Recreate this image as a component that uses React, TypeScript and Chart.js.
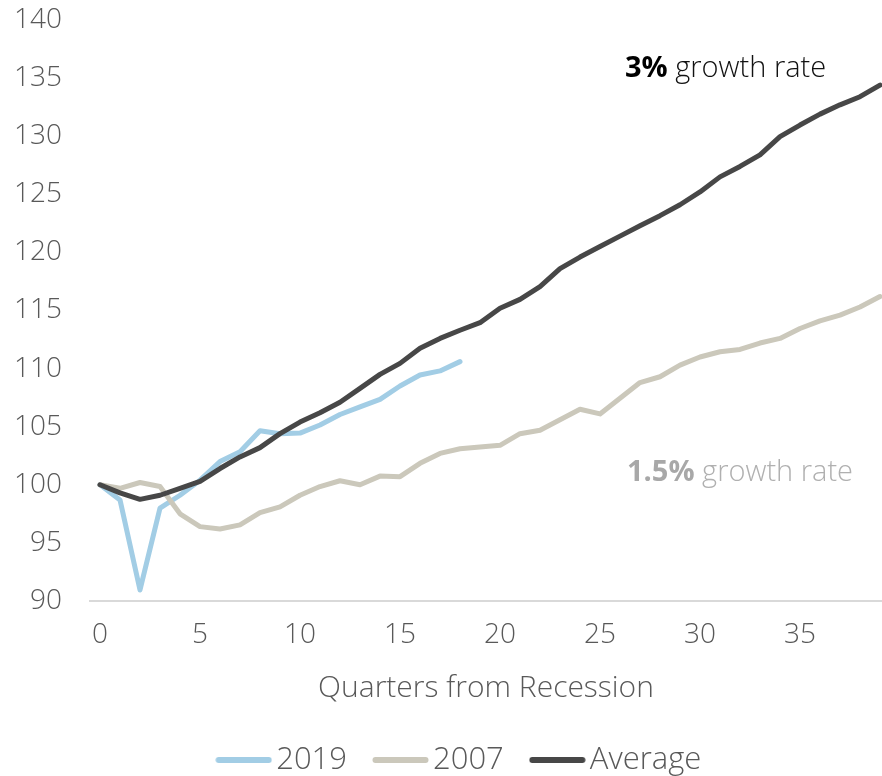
import React, { useEffect, useRef } from "react";
import { Chart, registerables } from "chart.js";

Chart.register(...registerables);

const quarters = [0, 1, 2, 3, 4, 5, 6, 7, 8, 9, 10, 11, 12, 13, 14, 15, 16, 17, 18, 19, 20, 21, 22, 23, 24, 25, 26, 27, 28, 29, 30, 31, 32, 33, 34, 35, 36, 37, 38, 39];

const series2019 = [100, 98.7, 90.95, 98.0, 99.1, 100.4, 102.0, 102.85, 104.65, 104.4, 104.45, 105.15, 106.05, 106.7, 107.35, 108.5, 109.45, 109.8, 110.6];

const series2007 = [100, 99.7, 100.2, 99.85, 97.5, 96.4, 96.2, 96.55, 97.6, 98.1, 99.1, 99.85, 100.35, 100.0, 100.75, 100.7, 101.85, 102.7, 103.1, 103.25, 103.4, 104.4, 104.7, 105.6, 106.5, 106.1, 107.45, 108.8, 109.3, 110.3, 111.0, 111.45, 111.65, 112.2, 112.6, 113.45, 114.1, 114.6, 115.3, 116.2];

const seriesAverage = [100, 99.3, 98.75, 99.1, 99.7, 100.3, 101.4, 102.4, 103.2, 104.4, 105.4, 106.2, 107.1, 108.3, 109.5, 110.45, 111.75, 112.6, 113.3, 113.95, 115.2, 115.96, 117.05, 118.6, 119.6, 120.5, 121.4, 122.3, 123.16, 124.1, 125.2, 126.5, 127.4, 128.4, 129.96, 130.96, 131.9, 132.7, 133.4, 134.4];

const xTickValues = [0, 5, 10, 15, 20, 25, 30, 35];
const seriesNames = ["2019", "2007", "Average"];
const seriesColors = ["#a2cde5", "#cbc8bb", "#474747"];
const xTitle = "Quarters from Recession";

const annotations = [
  { bold: "3%", rest: " growth rate", color: "#111111", boldColor: "#000000", x: 625, y: 77, size: 29 },
  { bold: "1.5%", rest: " growth rate", color: "#b0b0b0", boldColor: "#a8a8a8", x: 627, y: 481, size: 29 },
];

const FONT = "'Open Sans', 'Noto Sans', sans-serif";
const TEXT_WEIGHT = 300;
const LEGEND_SHIFT = 23;

const toPoints = (vals: number[]) => vals.map((v, i) => ({ x: quarters[i], y: v }));

// legend swatch: rounded thick line drawn into a small canvas
function makeSwatch(color: string) {
  const c = document.createElement("canvas");
  c.width = 57;
  c.height = 8;
  const g = c.getContext("2d")!;
  g.strokeStyle = color;
  g.lineWidth = 6;
  g.lineCap = "round";
  g.beginPath();
  g.moveTo(3.5, 4);
  g.lineTo(53.5, 4);
  g.stroke();
  return c;
}

const annotationPlugin = {
  id: "growthText",
  afterLayout(chart: any) {
    if (chart.legend) {
      chart.legend.left += LEGEND_SHIFT;
      chart.legend.right += LEGEND_SHIFT;
    }
  },
  afterDatasetsDraw(chart: any) {
    const ctx = chart.ctx;
    ctx.save();
    ctx.textBaseline = "alphabetic";
    ctx.textAlign = "left";
    for (const a of annotations) {
      ctx.font = `bold ${a.size}px ${FONT}`;
      ctx.fillStyle = a.boldColor;
      ctx.fillText(a.bold, a.x, a.y);
      const w = ctx.measureText(a.bold).width;
      ctx.font = `${TEXT_WEIGHT} ${a.size}px ${FONT}`;
      ctx.fillStyle = a.color;
      ctx.fillText(a.rest, a.x + w, a.y);
    }
    ctx.restore();
  },
};

export default function App() {
  const ref = useRef<HTMLCanvasElement | null>(null);
  useEffect(() => {
    if (!ref.current) return;
    const data = [series2019, series2007, seriesAverage];
    const orders = [2, 1, 0];
    const swatches = seriesColors.map(makeSwatch);
    const chart = new Chart(ref.current, {
      type: "line",
      data: {
        datasets: data.map((d, i) => ({
          label: seriesNames[i],
          data: toPoints(d),
          borderColor: seriesColors[i],
          backgroundColor: seriesColors[i],
          borderWidth: 5,
          borderCapStyle: "round",
          borderJoinStyle: "round",
          pointRadius: 0,
          pointStyle: swatches[i],
          tension: 0,
          order: orders[i],
        })),
      },
      options: {
        animation: false,
        responsive: false,
        maintainAspectRatio: false,
        layout: { padding: { top: 20, bottom: -9.5, left: 0, right: 0 } },
        plugins: {
          tooltip: { enabled: false },
          legend: {
            position: "bottom",
            labels: {
              usePointStyle: true,
              pointStyleWidth: 34,
              boxWidth: 34,
              padding: 36.5,
              color: "#595959",
              font: { family: FONT, size: 31, weight: TEXT_WEIGHT },
              sort: (a: any, b: any) => a.datasetIndex - b.datasetIndex,
            },
          },
        },
        scales: {
          x: {
            type: "linear",
            min: -0.5,
            max: 39.1,
            afterBuildTicks: (axis: any) => {
              axis.ticks = xTickValues.map((v) => ({ value: v }));
            },
            afterFit: (axis: any) => {
              axis.height = 107;
              axis.paddingLeft = 0;
              axis.paddingRight = 0;
            },
            grid: { display: false, drawTicks: false },
            border: { display: true, color: "#d9d9d9", width: 2 },
            ticks: {
              color: "#595959",
              font: { family: FONT, size: 28, weight: TEXT_WEIGHT },
              padding: 17,
              maxRotation: 0,
              autoSkip: false,
            },
            title: {
              display: true,
              text: xTitle,
              color: "#595959",
              font: { family: FONT, size: 30, weight: TEXT_WEIGHT, lineHeight: 1 },
              padding: { top: 0, bottom: 5 },
            },
          },
          y: {
            min: 90,
            max: 140,
            afterFit: (axis: any) => {
              axis.width = 90;
              axis.paddingTop = 0;
              axis.paddingBottom = 0;
            },
            grid: { display: false, drawTicks: false },
            border: { display: false },
            ticks: {
              stepSize: 5,
              color: "#595959",
              font: { family: FONT, size: 28, weight: TEXT_WEIGHT },
              padding: 28,
            },
          },
        },
      },
      plugins: [annotationPlugin],
    } as any);
    return () => chart.destroy();
  }, []);
  return (
    <div style={{ position: "fixed", left: 0, top: 0, width: 882, height: 776, background: "#ffffff" }}>
      <canvas ref={ref} width={882} height={776} style={{ width: 882, height: 776, display: "block" }} />
    </div>
  );
}
